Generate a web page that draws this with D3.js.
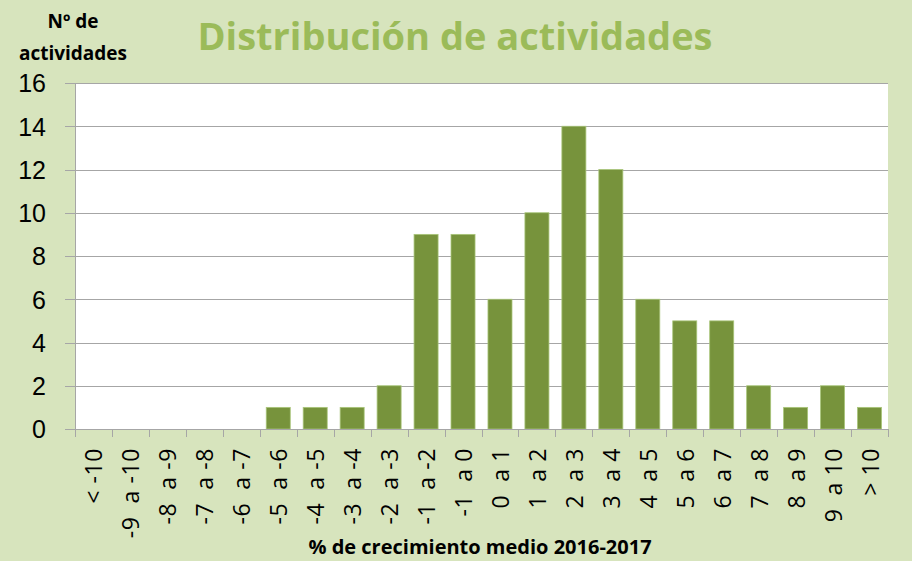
<!DOCTYPE html>
<meta charset="utf-8">
<style>
body { margin: 0; background: #d7e4bd; font-family: "Open Sans", "Liberation Sans", sans-serif; }
.grid line { stroke: #a6a6a6; stroke-width: 1; shape-rendering: crispEdges; }
.axis path, .axis line { stroke: #a6a6a6; stroke-width: 1; shape-rendering: crispEdges; fill: none; }
.axis text { fill: #000; }
</style>
<body>
<script src="https://d3js.org/d3.v7.min.js"></script>
<script>
// chart data
var categories = ["< -10", "-9  a -10", "-8  a -9", "-7  a -8", "-6  a -7", "-5  a -6", "-4  a -5", "-3  a -4", "-2  a -3",
                  "-1  a -2", "-1  a 0", "0  a 1", "1  a 2", "2  a 3", "3  a 4", "4  a 5", "5  a 6", "6  a 7",
                  "7  a 8", "8  a 9", "9  a 10", "> 10"];
var counts = [0, 0, 0, 0, 0, 1, 1, 1, 2, 9, 9, 6, 10, 14, 12, 6, 5, 5, 2, 1, 2, 1];
var yTicks = [0, 2, 4, 6, 8, 10, 12, 14, 16];

var W = 912, H = 561;
var margin = {top: 83, right: 24, bottom: 132, left: 75},
    width = W - margin.left - margin.right,
    height = H - margin.top - margin.bottom;

var svg = d3.select("body").append("svg")
    .attr("width", W).attr("height", H);

var g = svg.append("g")
    .attr("transform", "translate(" + margin.left + "," + margin.top + ")");

var x = d3.scaleBand().domain(categories).range([0, width]).paddingInner(0.35).paddingOuter(0.175);
var y = d3.scaleLinear().domain([0, 16]).range([height, 0]);

// plot area
g.append("rect").attr("width", width).attr("height", height).attr("fill", "#fff");

// gridlines
g.append("g").attr("class", "grid")
  .selectAll("line").data(yTicks.slice(1)).enter().append("line")
    .attr("x1", 0).attr("x2", width)
    .attr("y1", function(d) { return Math.round(y(d)) + 0.5; })
    .attr("y2", function(d) { return Math.round(y(d)) + 0.5; });

// bars
g.selectAll(".bar").data(counts).enter().append("rect")
    .attr("class", "bar")
    .attr("x", function(d, i) { return x(categories[i]); })
    .attr("width", x.bandwidth())
    .attr("y", function(d) { return y(d); })
    .attr("height", function(d) { return height - y(d); })
    .attr("fill", "#77933c")
    .attr("stroke", "#a9c57a")
    .attr("stroke-width", 0.8);

// y axis
var yAxis = g.append("g").attr("class", "axis")
    .call(d3.axisLeft(y).tickValues(yTicks).tickSize(10).tickSizeOuter(0).tickPadding(19));
yAxis.selectAll("text").style("font-size", "25px").attr("dy", "0.35em");

// x axis with ticks between categories
var xAxis = g.append("g").attr("class", "axis")
    .attr("transform", "translate(0," + height + ")");
xAxis.append("line").attr("x1", 0).attr("x2", width).attr("y1", 0.5).attr("y2", 0.5);
var bounds = d3.range(categories.length + 1).map(function(i) { return i * x.step(); });
xAxis.selectAll(".tk").data(bounds).enter().append("line")
    .attr("x1", function(d) { return Math.round(d) + 0.5; })
    .attr("x2", function(d) { return Math.round(d) + 0.5; })
    .attr("y1", 0).attr("y2", 8);

xAxis.selectAll(".lbl").data(categories).enter().append("text")
    .attr("transform", function(d) {
        return "translate(" + (x(d) + x.bandwidth() / 2 + 9) + ",19) rotate(-90)";
    })
    .attr("text-anchor", "end")
    .style("font-size", "23px")
    .style("letter-spacing", "0.6px")
    .style("white-space", "pre")
    .attr("xml:space", "preserve")
    .text(function(d) { return d; });

// titles
svg.append("text")
    .attr("x", 455).attr("y", 50)
    .attr("text-anchor", "middle")
    .style("font-size", "38px").style("font-weight", "bold")
    .attr("fill", "#9bbb59")
    .text("Distribución de actividades");

var yt = svg.append("text").attr("text-anchor", "middle")
    .style("font-size", "19px").style("font-weight", "bold");
yt.append("tspan").attr("x", 73).attr("y", 28).text("Nº de");
yt.append("tspan").attr("x", 73).attr("y", 60).text("actividades");

svg.append("text")
    .attr("x", 480).attr("y", 554)
    .attr("text-anchor", "middle")
    .style("font-size", "20px").style("font-weight", "bold")
    .text("% de crecimiento medio 2016-2017");
</script>
</body>
